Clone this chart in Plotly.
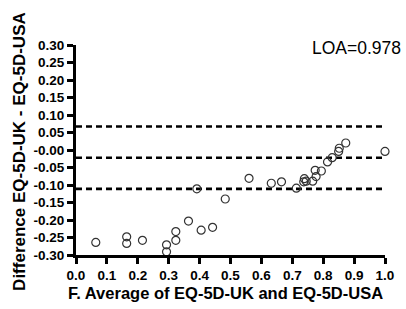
import plotly.graph_objects as go

avg_x = [0.064, 0.164, 0.164, 0.215, 0.293, 0.293, 0.323, 0.323, 0.364, 0.391,
         0.405, 0.442, 0.483, 0.56, 0.632, 0.665, 0.713, 0.737, 0.739, 0.745,
         0.766, 0.774, 0.777, 0.794, 0.814, 0.829, 0.850, 0.852, 0.873, 1.0]
diff_y = [-0.264, -0.248, -0.267, -0.258, -0.271, -0.291, -0.233, -0.258, -0.203, -0.111,
          -0.229, -0.221, -0.140, -0.081, -0.095, -0.091, -0.109, -0.091, -0.082, -0.089,
          -0.089, -0.058, -0.076, -0.060, -0.034, -0.022, -0.004, 0.005, 0.020, -0.004]

bias_lines = [0.067, -0.022, -0.111]

x_tickvals = [0.0, 0.1, 0.2, 0.3, 0.4, 0.5, 0.6, 0.7, 0.8, 0.9, 1.0]
x_ticktext = ["0.0", "0.1", "0.2", "0.3", "0.4", "0.5", "0.6", "0.7", "0.8", "0.9", "1.0"]
y_tickvals = [0.30, 0.25, 0.20, 0.15, 0.10, 0.05, 0.0, -0.05, -0.10, -0.15, -0.20, -0.25, -0.30]
y_ticktext = ["0.30", "0.25", "0.20", "0.15", "0.10", "0.05", "-0.00", "-0.05", "-0.10",
              "-0.15", "-0.20", "-0.25", "-0.30"]

font = "Liberation Sans, Arial, sans-serif"

fig = go.Figure()
for v in bias_lines:
    fig.add_trace(go.Scatter(x=[0, 1], y=[v, v], mode="lines",
                             line=dict(color="black", width=2.6, dash="6px,4px"),
                             hoverinfo="skip", showlegend=False, cliponaxis=False))
fig.add_trace(go.Scatter(x=avg_x, y=diff_y, mode="markers",
                         marker=dict(symbol="circle-open", size=8, color="#333333",
                                     line=dict(width=1.2, color="#333333")),
                         showlegend=False, cliponaxis=False))

axis_common = dict(showline=True, linecolor="black", linewidth=3, ticks="outside",
                   ticklen=6, tickwidth=2.5, tickcolor="black", showgrid=False,
                   zeroline=False, tickfont=dict(family=font, size=13.5, color="black",
                                                 weight="bold"))
fig.update_xaxes(range=[0, 1], tickvals=x_tickvals, ticktext=x_ticktext, **axis_common)
fig.update_yaxes(range=[-0.30, 0.30], tickvals=y_tickvals, ticktext=y_ticktext,
                 **axis_common)

fig.add_annotation(text="Difference EQ-5D-UK - EQ-5D-USA", xref="paper", yref="paper",
                   x=-0.185, y=0.495, xanchor="center", yanchor="middle", textangle=-90,
                   showarrow=False, font=dict(family=font, size=17, color="black",
                                              weight="bold"))
fig.add_annotation(text="F. Average of EQ-5D-UK and EQ-5D-USA", xref="paper", yref="paper",
                   x=0.483, y=-0.181, xanchor="center", yanchor="middle",
                   showarrow=False, font=dict(family=font, size=16.5, color="black",
                                              weight="bold"))
fig.add_annotation(text="LOA=0.978", xref="paper", yref="paper", x=1.058, y=0.986,
                   xanchor="right", yanchor="middle", showarrow=False,
                   font=dict(family=font, size=17.5, color="black"))

fig.update_layout(width=406, height=309, margin=dict(l=75.5, r=12.5, t=45, b=54),
                  plot_bgcolor="white", paper_bgcolor="white")
fig.write_html("out.html", config={"displayModeBar": False},
               post_script="document.body.style.margin='0px';")
